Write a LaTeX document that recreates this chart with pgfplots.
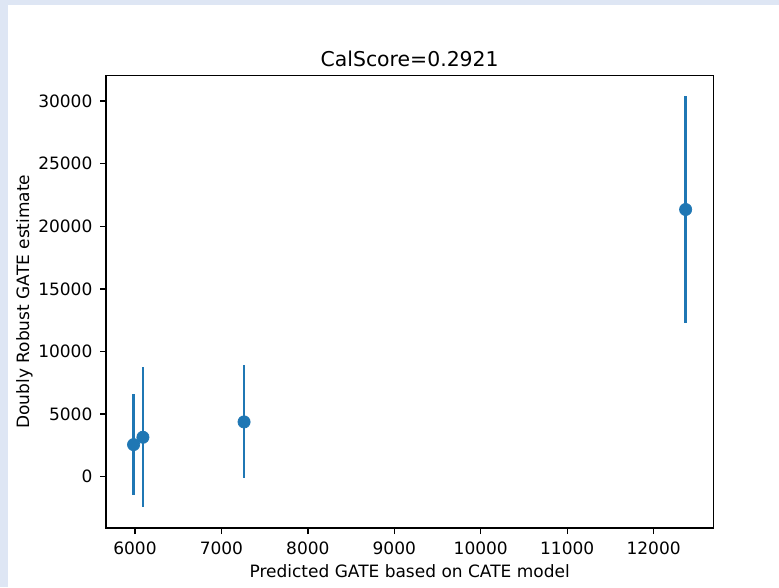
\documentclass[border=0pt]{standalone}
\usepackage{fontspec}
\setmainfont{DejaVu Sans}
\usepackage{pgfplots}
\pgfplotsset{compat=1.18}
\definecolor{mplblue}{HTML}{1F77B4}
\definecolor{bgblue}{RGB}{222,230,244}
\begin{document}
\begin{tikzpicture}
% page: 779 x 587 px, 1px = 0.5882pt
\fill[bgblue] (0,0) rectangle (458.2pt,345.3pt);
\fill[white] (4.7pt,0) rectangle (458.2pt,342.4pt);
\begin{axis}[
  at={(62.35pt,34.7pt)}, anchor=south west,
  scale only axis,
  width=357.2pt, height=266.3pt,
  xmin=5665, xmax=12690,
  ymin=-4100, ymax=32050,
  scaled ticks=false,
  xtick={6000,7000,8000,9000,10000,11000,12000},
  xticklabels={6000,7000,8000,9000,10000,11000,12000},
  ytick={0,5000,10000,15000,20000,25000,30000},
  yticklabels={0,5000,10000,15000,20000,25000,30000},
  tick align=outside,
  tick pos=left,
  major tick length=3.5pt,
  tick style={black, line width=0.8pt},
  axis line style={black, line width=0.8pt},
  /pgf/number format/assume math mode=true,
  tick label style={font=\fontsize{10}{12}\selectfont},
  xticklabel style={yshift=-1pt},
  yticklabel style={xshift=-1pt},
  label style={font=\fontsize{10}{12}\selectfont},
  xlabel={Predicted GATE based on CATE model},
  ylabel={Doubly Robust GATE estimate},
  ylabel style={yshift=-3.5pt},
  xlabel style={yshift=1pt},
  title={CalScore=0.2921},
  title style={font=\fontsize{12}{14}\selectfont, at={(0.5,1)}, anchor=base, yshift=-1pt},
]
\addplot[
  only marks, mark=*, mark size=3.6pt,
  mark options={fill=mplblue, draw=mplblue},
  color=mplblue,
  error bars/.cd, y dir=both, y explicit,
  error mark=none,
  error bar style={line width=1.5pt, color=mplblue},
] coordinates {
  (5984, 2563) +- (0, 4027)
  (6092, 3150) +- (0, 5600)
  (7262, 4375) +- (0, 4505)
  (12370, 21336) +- (0, 9064)
};
\end{axis}
\end{tikzpicture}
\end{document}
